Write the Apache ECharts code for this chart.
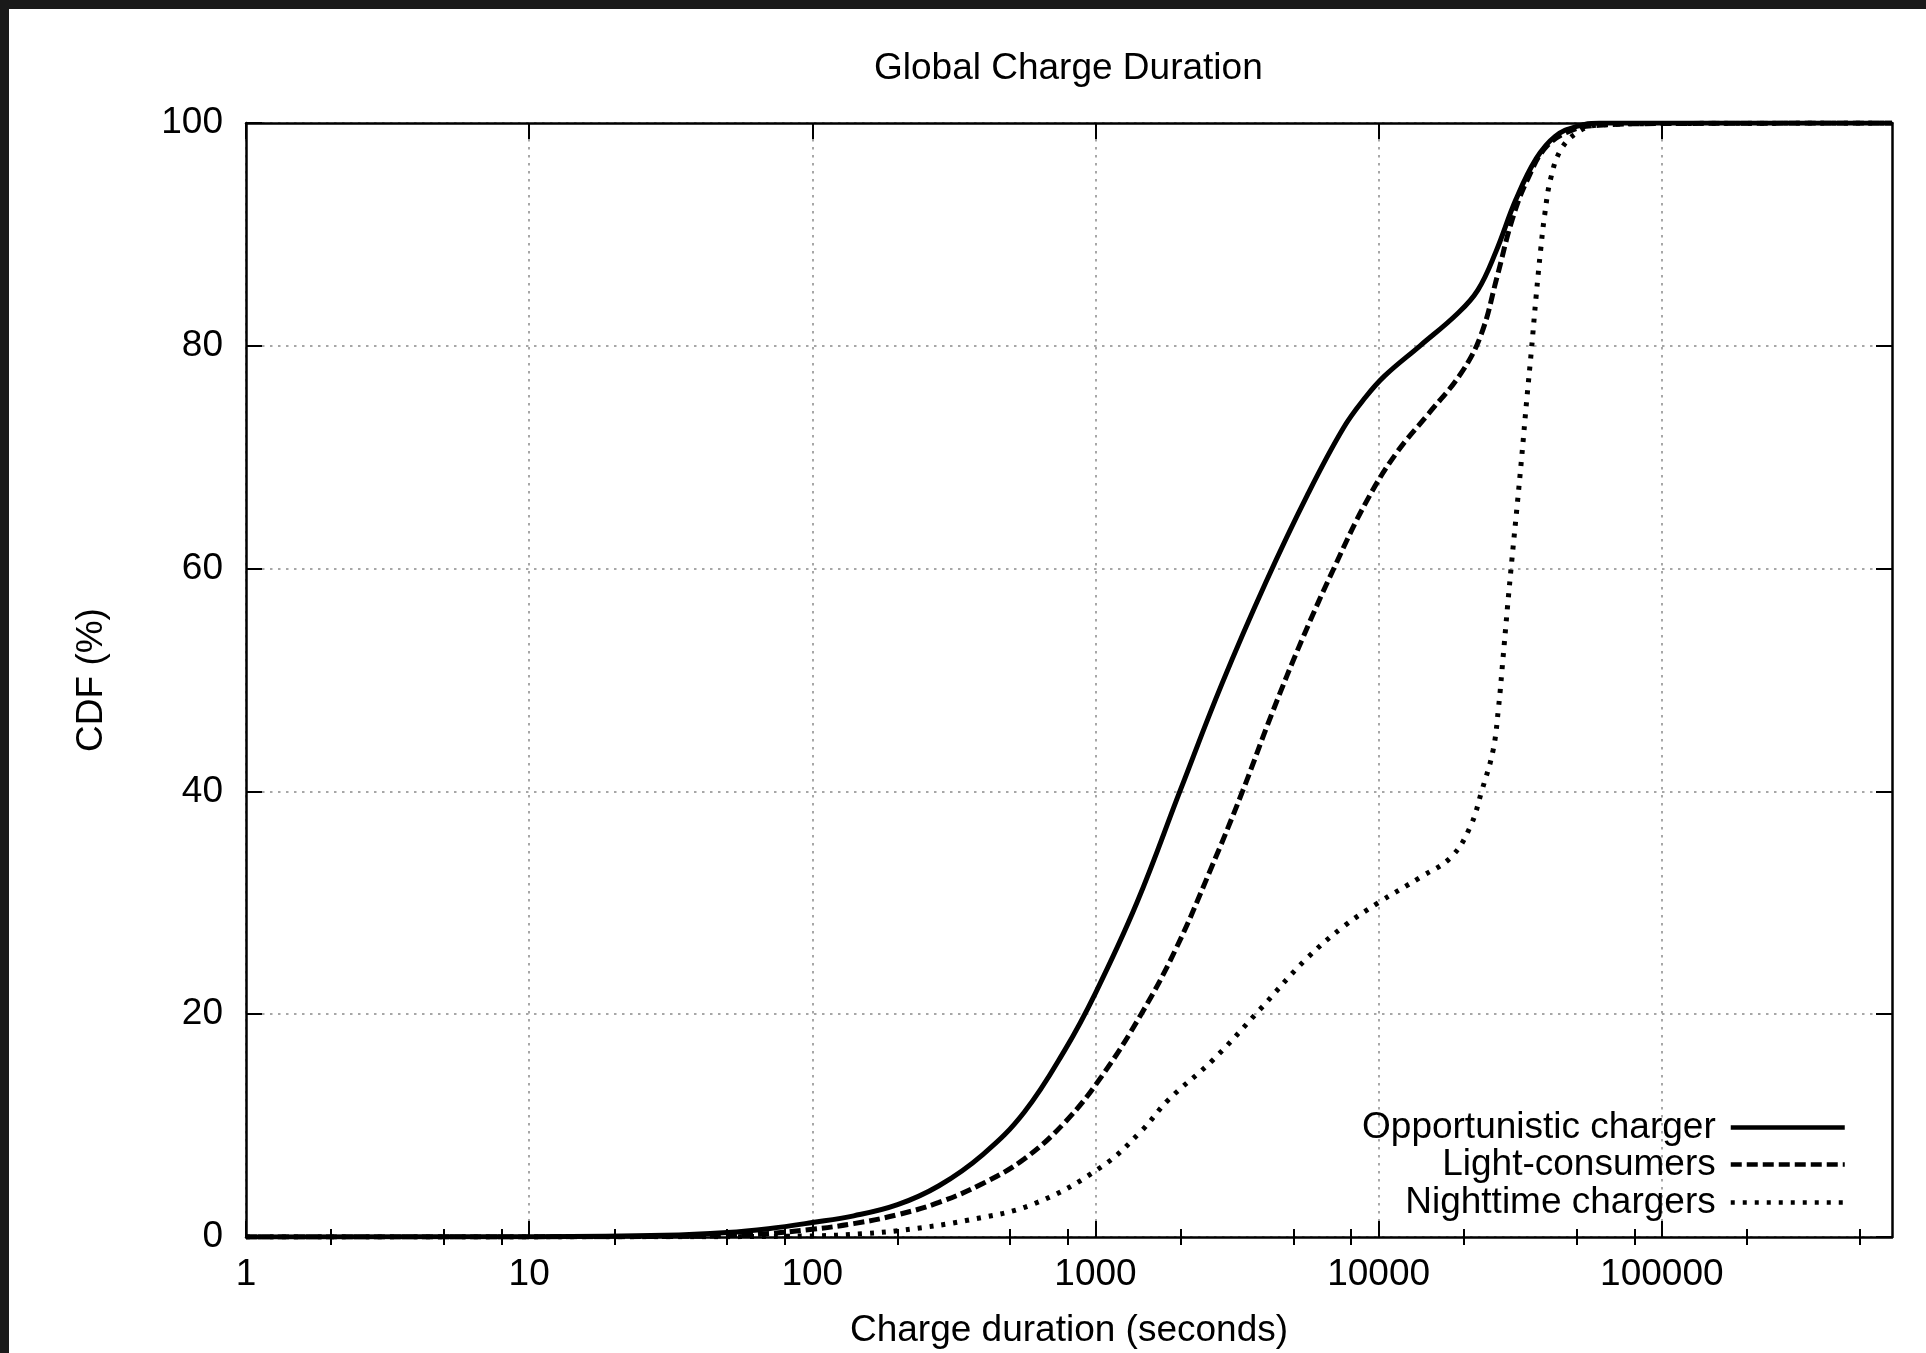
<!DOCTYPE html>
<html>
<head>
<meta charset="utf-8">
<script src="https://cdn.jsdelivr.net/npm/echarts@6/dist/echarts.min.js"></script>
<style>
  html, body { margin: 0; padding: 0; width: 1926px; height: 1353px; background: #1a1a1a; overflow: hidden; }
  #chart { position: absolute; left: 9px; top: 9px; width: 1917px; height: 1344px; background: #ffffff; }
</style>
</head>
<body>
<div id="chart"></div>
<script>
// ---- Data (charge duration in seconds, CDF in %) ----
const oppSeconds = [1, 10, 30, 50, 70, 100, 140, 200, 280, 400, 560, 780, 1000, 1400, 2000, 2800, 4000, 5600, 7500, 9000, 10500, 14000, 19000, 22400, 26000, 30500, 36000, 42000, 50000, 60000, 100000, 650000];
const oppCdf     = [0, 0.03, 0.15, 0.4, 0.75, 1.3, 1.9, 2.9, 4.6, 7.4, 11.2, 16.8, 21.9, 30.0, 40.2, 49.7, 58.8, 66.6, 72.6, 75.4, 77.3, 80.0, 82.9, 85.0, 88.5, 93.1, 96.8, 98.8, 99.7, 100, 100, 100];

const lightSeconds = [1, 10, 30, 60, 100, 140, 200, 280, 400, 560, 780, 1050, 1450, 1918, 2541, 3305, 4200, 5400, 7000, 9000, 11500, 15000, 19500, 23000, 26200, 29600, 33500, 39200, 48700, 60000, 100000, 650000];
const lightCdf     = [0, 0.01, 0.05, 0.2, 0.7, 1.2, 2.0, 3.1, 4.8, 7.0, 10.3, 14.4, 20.0, 25.8, 32.9, 40.0, 47.0, 53.8, 60.2, 65.9, 70.3, 73.9, 77.5, 81.0, 86.2, 91.3, 94.9, 97.9, 99.4, 99.8, 99.95, 100];

const nightSeconds = [1, 30, 100, 150, 205, 353, 609, 1050, 1450, 1807, 2600, 3800, 5520, 7540, 9970, 14050, 18020, 21040, 23100, 25360, 26500, 27500, 28500, 29600, 30800, 32000, 33300, 34600, 36000, 37300, 38600, 40500, 44000, 50000, 58700, 100000, 650000];
const nightCdf     = [0, 0.02, 0.1, 0.3, 0.6, 1.5, 3.0, 6.3, 9.5, 12.3, 15.9, 20.4, 24.9, 27.9, 30.0, 32.3, 34.1, 36.8, 40.0, 43.7, 47.5, 52.0, 56.5, 61.0, 65.5, 70.0, 75.0, 79.5, 84.5, 88.5, 91.8, 95.0, 97.6, 99.1, 99.8, 99.95, 100];

const seriesNames = ['Opportunistic charger', 'Light-consumers', 'Nighttime chargers'];
const xMajorTicks = [1, 10, 100, 1000, 10000, 100000];
const xMinorTicks = [2, 5, 8, 20, 50, 80, 200, 500, 800, 2000, 5000, 8000, 20000, 50000, 80000, 200000, 500000];
const yTicks = [0, 20, 40, 60, 80, 100];

const zip = (xs, ys) => xs.map((x, i) => [x, ys[i]]);

const FONT = 'Liberation Sans';
const FS = 37;
const gridLine = { show: true, lineStyle: { color: '#8a8a8a', width: 1.5, type: [2.5, 5.5] } };
const frameLine = { show: true, onZero: false, lineStyle: { color: '#000', width: 2.5 } };

function xAxisBase(position, major) {
  return {
    type: 'log', logBase: 10, min: 1, max: 650000, position: position, gridIndex: 0,
    axisLine: major ? frameLine : { show: false },
    axisTick: { show: true, inside: true, length: major ? 16 : 8, customValues: major ? xMajorTicks : xMinorTicks,
                lineStyle: { color: '#000', width: 2 } },
    axisLabel: { show: false },
    splitLine: { show: false },
    minorTick: { show: false }, minorSplitLine: { show: false }
  };
}

const xBottom = xAxisBase('bottom', true);
xBottom.axisLabel = {
  show: true, customValues: xMajorTicks, margin: 19,
  fontFamily: FONT, fontSize: FS, color: '#000',
  formatter: v => String(Math.round(v))
};
xBottom.splitLine = gridLine;
xBottom.name = 'Charge duration (seconds)';
xBottom.nameLocation = 'middle';
xBottom.nameGap = 75;
xBottom.nameTextStyle = { fontFamily: FONT, fontSize: FS, color: '#000' };

function yAxisBase(position, main) {
  return {
    type: 'value', min: 0, max: 100, interval: 20, position: position, gridIndex: 0,
    axisLine: frameLine,
    axisTick: { show: true, inside: true, length: 16, lineStyle: { color: '#000', width: 2 } },
    axisLabel: main ? { show: true, margin: 23, fontFamily: FONT, fontSize: FS, color: '#000' } : { show: false },
    splitLine: main ? gridLine : { show: false }
  };
}
const yLeft = yAxisBase('left', true);
yLeft.name = 'CDF (%)';
yLeft.nameLocation = 'middle';
yLeft.nameGap = 136;
yLeft.nameTextStyle = { fontFamily: FONT, fontSize: FS, color: '#000' };

const lineStyles = [
  { color: '#000', width: 5, type: 'solid' },
  { color: '#000', width: 5, type: [11, 5] },
  { color: '#000', width: 5, type: [4, 8] }
];
const dataSets = [zip(oppSeconds, oppCdf), zip(lightSeconds, lightCdf), zip(nightSeconds, nightCdf)];

const legendTops = [1100, 1137, 1175];

const chart = echarts.init(document.getElementById('chart'), null, { renderer: 'canvas' });
chart.setOption({
  animation: false,
  backgroundColor: '#ffffff',
  title: {
    text: 'Global Charge Duration', left: 865, top: 41, padding: 0,
    textStyle: { fontFamily: FONT, fontSize: FS, fontWeight: 'normal', color: '#000' }
  },
  grid: { left: 237, top: 114, right: 34, bottom: 116, containLabel: false, outerBoundsMode: 'none' },
  xAxis: [xBottom, xAxisBase('bottom', false), xAxisBase('top', true), xAxisBase('top', false)],
  yAxis: [yLeft, yAxisBase('right', false)],
  legend: seriesNames.map((n, i) => ({
    data: [n], orient: 'vertical', right: 79, top: legendTops[i], padding: 0,
    align: 'right', itemWidth: 114, itemHeight: 20, selectedMode: false,
    itemStyle: { opacity: 0 },
    lineStyle: { color: '#000', width: 4.5, type: lineStyles[i].type },
    textStyle: { fontFamily: FONT, fontSize: FS, color: '#000', padding: [0, 10, 0, 0] }
  })),
  series: seriesNames.map((n, i) => ({
    name: n, type: 'line', xAxisIndex: 0, yAxisIndex: 0,
    data: dataSets[i], showSymbol: false, symbol: 'none',
    smooth: 0.4,
    lineStyle: lineStyles[i], itemStyle: { color: '#000' },
    z: 3 - i
  }))
});
</script>
</body>
</html>
